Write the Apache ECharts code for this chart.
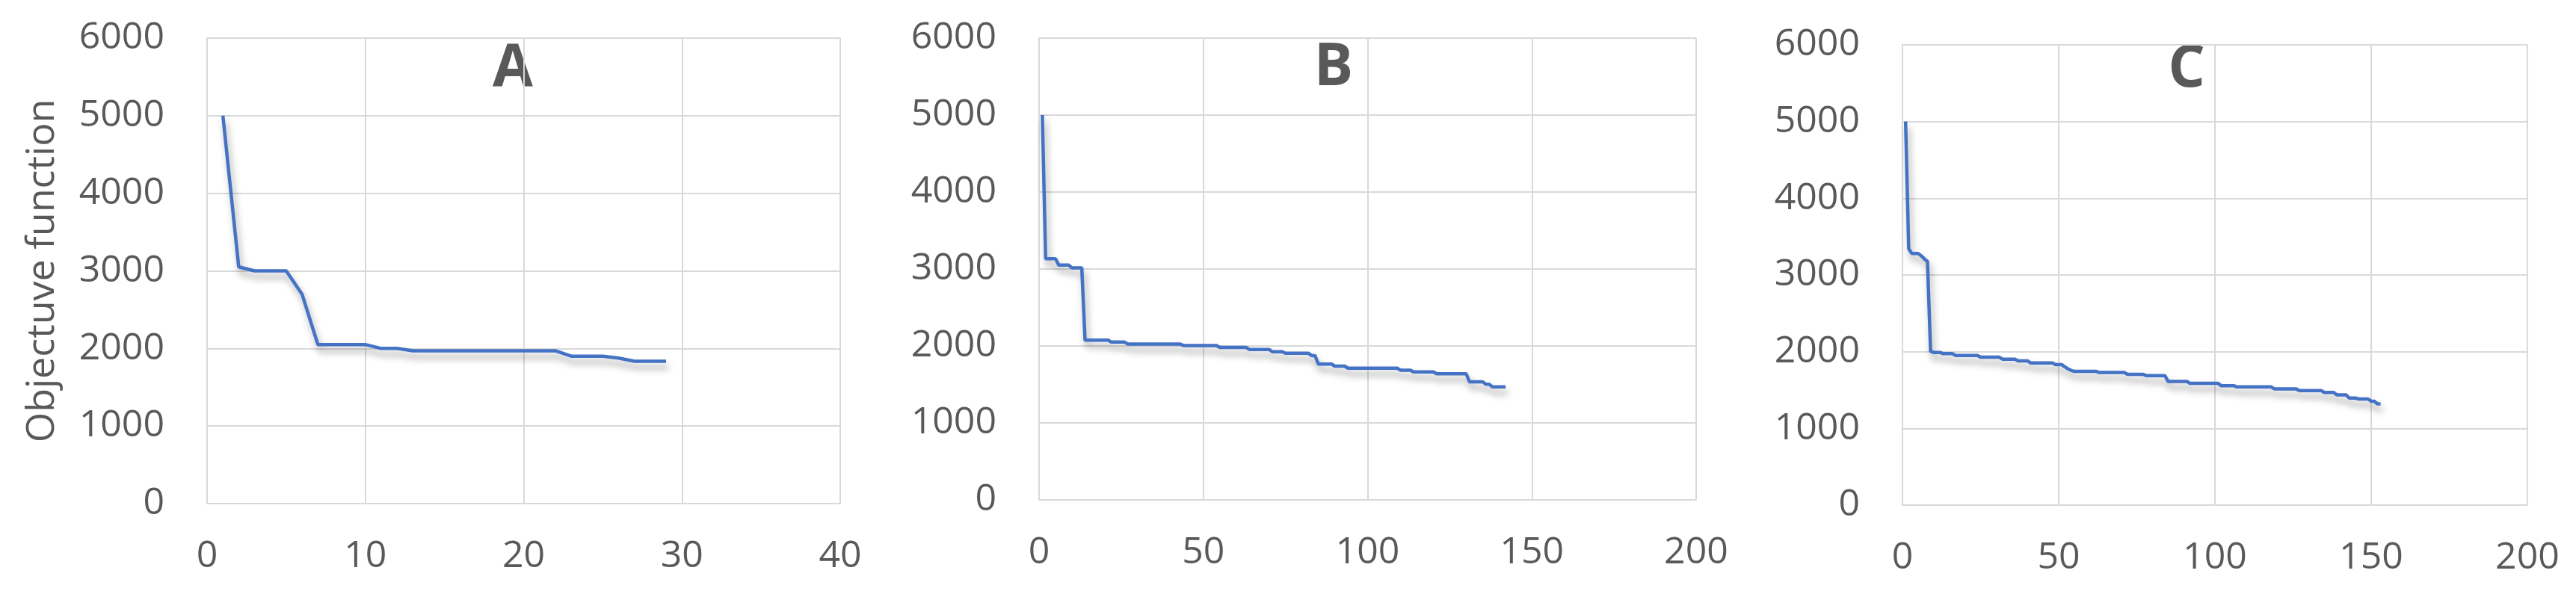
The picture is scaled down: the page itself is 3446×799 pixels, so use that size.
<!DOCTYPE html>
<html>
<head>
<meta charset="utf-8">
<script src="https://cdn.jsdelivr.net/npm/echarts@6/dist/echarts.min.js"></script>
<style>
html,body{margin:0;padding:0;background:#fff;}
#c{width:3446px;height:799px;}
</style>
</head>
<body>
<div id="c"></div>
<script>
// Panel titles
const panelTitles = ['A', 'B', 'C'];
const yAxisTitle = 'Objectuve function';
// axis tick values
const xTicksA = [0, 10, 20, 30, 40];
const xTicksBC = [0, 50, 100, 150, 200];
const yTicks = [0, 1000, 2000, 3000, 4000, 5000, 6000];

// Objective function per iteration (iteration = index + 1)
const objA = [5000, 3050, 3000, 3000, 3000, 2700, 2050, 2050, 2050, 2050,
  2000, 2000, 1970, 1970, 1970, 1970, 1970, 1970, 1970, 1970,
  1970, 1970, 1900, 1900, 1900, 1875, 1835, 1835, 1835];

const objB = [
  5000,3133,3133,3133,3133,3050,3050,3050,3050,3015,
  3015,3015,3015,2075,2075,2075,2075,2075,2075,2075,
  2075,2050,2050,2050,2050,2050,2025,2025,2025,2025,
  2025,2025,2025,2025,2025,2025,2025,2025,2025,2025,
  2025,2025,2025,2005,2005,2005,2005,2005,2005,2005,
  2005,2005,2005,2005,1980,1980,1980,1980,1980,1980,
  1980,1980,1980,1955,1955,1955,1955,1955,1955,1955,
  1925,1925,1925,1925,1905,1905,1905,1905,1905,1905,
  1905,1905,1875,1875,1765,1765,1765,1765,1765,1738,
  1738,1738,1738,1711,1711,1711,1711,1711,1711,1711,
  1711,1711,1711,1711,1711,1711,1711,1711,1711,1685,
  1685,1685,1685,1662,1662,1662,1662,1662,1662,1662,
  1639,1639,1639,1639,1639,1639,1639,1639,1639,1639,
  1534,1534,1534,1534,1534,1502,1502,1469,1469,1469,
  1469,1469];

const objC = [
  5000,3340,3280,3280,3280,3250,3210,3175,2005,1990,
  1990,1990,1974,1974,1974,1974,1951,1951,1951,1951,
  1951,1951,1951,1951,1928,1928,1928,1928,1928,1928,
  1928,1902,1902,1902,1902,1902,1880,1880,1880,1880,
  1854,1854,1854,1854,1854,1854,1854,1854,1830,1830,
  1830,1800,1775,1755,1743,1743,1743,1743,1743,1743,
  1743,1743,1728,1728,1728,1728,1728,1728,1728,1728,
  1728,1705,1705,1705,1705,1705,1705,1688,1688,1688,
  1688,1688,1688,1688,1613,1613,1613,1613,1613,1613,
  1613,1587,1587,1587,1587,1587,1587,1587,1587,1587,
  1587,1557,1557,1557,1557,1557,1541,1541,1541,1541,
  1541,1541,1541,1541,1541,1541,1541,1541,1515,1515,
  1515,1515,1515,1515,1515,1515,1492,1492,1492,1492,
  1492,1492,1492,1492,1469,1469,1469,1469,1436,1436,
  1436,1436,1395,1395,1395,1383,1383,1383,1383,1355,
  1355,1320,1320];

const FONT = 'Open Sans';
const TXT = '#595959';
const GRIDC = '#d9d9d9';

const grids = [
  {left: 277, top: 51, width: 847, height: 623},
  {left: 1390, top: 51, width: 879, height: 618},
  {left: 2545, top: 60, width: 836, height: 616}
];
const xRanges = [xTicksA, xTicksBC, xTicksBC];
const datas = [objA, objB, objC];
const titlePos = [[686, 93], [1784, 92], [2925, 94]];

function toPairs(arr) { return arr.map((v, i) => [i + 1, v]); }

const xAxes = xRanges.map((t, i) => ({
  type: 'value', gridIndex: i,
  min: t[0], max: t[t.length - 1], interval: t[1] - t[0],
  axisLine: {show: true, lineStyle: {color: GRIDC, width: 2}},
  axisTick: {show: false},
  axisLabel: {color: TXT, fontFamily: FONT, fontSize: 50, margin: 46,
    formatter: v => String(v)},
  splitLine: {show: true, lineStyle: {color: GRIDC, width: 2}}
}));
const yAxes = grids.map((g, i) => ({
  type: 'value', gridIndex: i,
  min: yTicks[0], max: yTicks[yTicks.length - 1], interval: yTicks[1] - yTicks[0],
  axisLine: {show: true, lineStyle: {color: GRIDC, width: 2}},
  axisTick: {show: false},
  axisLabel: {color: TXT, fontFamily: FONT, fontSize: 50, margin: 57,
    formatter: v => String(v)},
  splitLine: {show: true, lineStyle: {color: GRIDC, width: 2}},
  name: i === 0 ? yAxisTitle : '',
  nameLocation: 'middle',
  nameGap: 194,
  nameTextStyle: {color: TXT, fontFamily: FONT, fontSize: 52}
}));
const series = datas.map((d, i) => ({
  type: 'line', xAxisIndex: i, yAxisIndex: i,
  data: toPairs(d), showSymbol: false, symbol: 'none',
  lineStyle: {color: '#4472C4', width: 4.5,
    shadowColor: 'rgba(0,0,0,0.35)', shadowBlur: 10, shadowOffsetX: 3, shadowOffsetY: 8},
  animation: false
}));
const graphic = panelTitles.map((t, i) => ({
  type: 'text', x: titlePos[i][0], y: titlePos[i][1],
  style: {text: t, fill: TXT, font: 'bold 78px "Open Sans"',
    align: 'center', verticalAlign: 'middle', textAlign: 'center', textVerticalAlign: 'middle'}
}));

const chart = echarts.init(document.getElementById('c'), null, {renderer: 'canvas'});
chart.setOption({
  backgroundColor: '#ffffff',
  animation: false,
  grid: grids,
  xAxis: xAxes,
  yAxis: yAxes,
  series: series,
  graphic: graphic
});
</script>
</body>
</html>
